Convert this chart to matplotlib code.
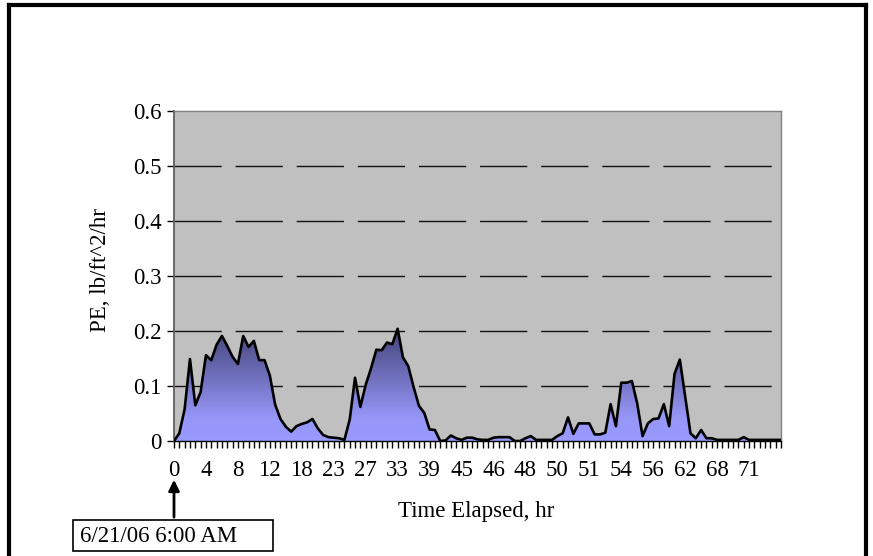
import numpy as np
import matplotlib
matplotlib.use("Agg")
import matplotlib.pyplot as plt
from matplotlib.colors import LinearSegmentedColormap
from matplotlib.patches import Rectangle, FancyArrowPatch
from matplotlib.lines import Line2D

plt.rcParams["font.family"] = ["Liberation Serif", "DejaVu Serif"]
plt.rcParams["font.size"] = 16.5
plt.rcParams["lines.scale_dashes"] = False

W, H = 873, 556

# PE readings, one per logged sample (category axis)
pe = [0.000, 0.014, 0.058, 0.149, 0.065, 0.089, 0.156, 0.147, 0.175, 0.191,
      0.173, 0.153, 0.140, 0.191, 0.171, 0.182, 0.147, 0.147, 0.119, 0.066,
      0.040, 0.026, 0.017, 0.027, 0.031, 0.034, 0.040, 0.023, 0.011, 0.007,
      0.006, 0.005, 0.002, 0.039, 0.115, 0.062, 0.102, 0.132, 0.166, 0.165,
      0.179, 0.176, 0.204, 0.152, 0.136, 0.098, 0.064, 0.051, 0.021, 0.020,
      0.000, 0.001, 0.010, 0.005, 0.002, 0.006, 0.006, 0.003, 0.002, 0.002,
      0.006, 0.007, 0.007, 0.007, 0.000, 0.000, 0.005, 0.009, 0.002, 0.002,
      0.002, 0.002, 0.009, 0.014, 0.043, 0.013, 0.032, 0.032, 0.032, 0.012,
      0.012, 0.015, 0.067, 0.027, 0.106, 0.106, 0.109, 0.068, 0.009, 0.032,
      0.040, 0.041, 0.067, 0.027, 0.122, 0.148, 0.081, 0.014, 0.005, 0.020,
      0.005, 0.005, 0.002, 0.002, 0.002, 0.002, 0.002, 0.007, 0.002, 0.002,
      0.002, 0.002, 0.002, 0.002, 0.002]
time_labels = ["0", "4", "8", "12", "18", "23", "27", "33", "39", "45",
               "46", "48", "50", "51", "54", "56", "62", "68", "71"]
label_every = 6
y_ticks = [0, 0.1, 0.2, 0.3, 0.4, 0.5, 0.6]


def fx(px):
    return px / W


def fy(py):
    return 1 - py / H


fig = plt.figure(figsize=(W / 100, H / 100), dpi=100)
ax = fig.add_axes([fx(174), fy(441), (781 - 174) / W, (441 - 111) / H])
ax.set_facecolor("#C0C0C0")

x = np.arange(len(pe))
y = np.array(pe)

# gradient filled area, clipped to the data polygon
poly = ax.fill_between(x, y, 0, facecolor="none", edgecolor="none")
cmap = LinearSegmentedColormap.from_list(
    "pe", [(0.0, "#9A9AFF"), (0.2, "#9797F9"), (0.5, "#7777C8"), (1.0, "#43437A")])
grad = np.linspace(0, 1, 256).reshape(-1, 1)
im = ax.imshow(grad, cmap=cmap, origin="lower", aspect="auto",
               extent=[0, len(pe) - 1, 0, y.max()], zorder=2)
im.set_clip_path(poly.get_paths()[0], transform=ax.transData)
ax.plot(x, y, color="black", lw=1.9, zorder=3)

ax.set_xlim(0, len(pe) - 1)
ax.set_ylim(0, 0.6)

ax.set_yticks(y_ticks)
ax.set_yticklabels(["0" if v == 0 else f"{v:.1f}" for v in y_ticks])
for v in y_ticks[1:-1]:
    ax.axhline(v, color="#111111", lw=1.0, dashes=(34, 10), zorder=1)

xlabels = [""] * len(pe)
for i, lab in enumerate(time_labels):
    xlabels[i * label_every] = lab
ax.set_xticks(x)
ax.set_xticklabels(xlabels)
ax.tick_params(axis="x", length=5, width=1, color="black", pad=9)
ax.tick_params(axis="y", length=5, width=1, color="black", pad=4)

for side in ("top", "right"):
    ax.spines[side].set_color("#808080")
    ax.spines[side].set_linewidth(1.0)
ax.spines["left"].set_color("#606060")
ax.spines["left"].set_linewidth(1.3)
ax.spines["bottom"].set_color("black")
ax.spines["bottom"].set_linewidth(1.0)

fig.text(fx(100), fy(270), "PE, lb/ft^2/hr", rotation=90, ha="center", va="center")
fig.text(fx(476), fy(512), "Time Elapsed, hr", ha="center", va="center")

# start-time callout
fig.add_artist(Rectangle((fx(73), fy(551)), (273 - 73) / W, (551 - 520) / H,
                         transform=fig.transFigure, fc="white", ec="black", lw=1.2))
fig.text(fx(80), fy(537), "6/21/06 6:00 AM", ha="left", va="center")
fig.add_artist(FancyArrowPatch((fx(174), fy(520)), (fx(174), fy(477)),
                               transform=fig.transFigure, arrowstyle="-|>",
                               mutation_scale=16, lw=2, color="black"))

# outer chart border (bottom edge falls outside the image)
for xs, ys in [((9, 9), (5, 560)), ((9, 866), (5, 5)), ((866, 866), (5, 560))]:
    fig.add_artist(Line2D([fx(v) for v in xs], [fy(v) for v in ys],
                          transform=fig.transFigure, color="black", lw=3))

fig.savefig("out.png", dpi=100)
